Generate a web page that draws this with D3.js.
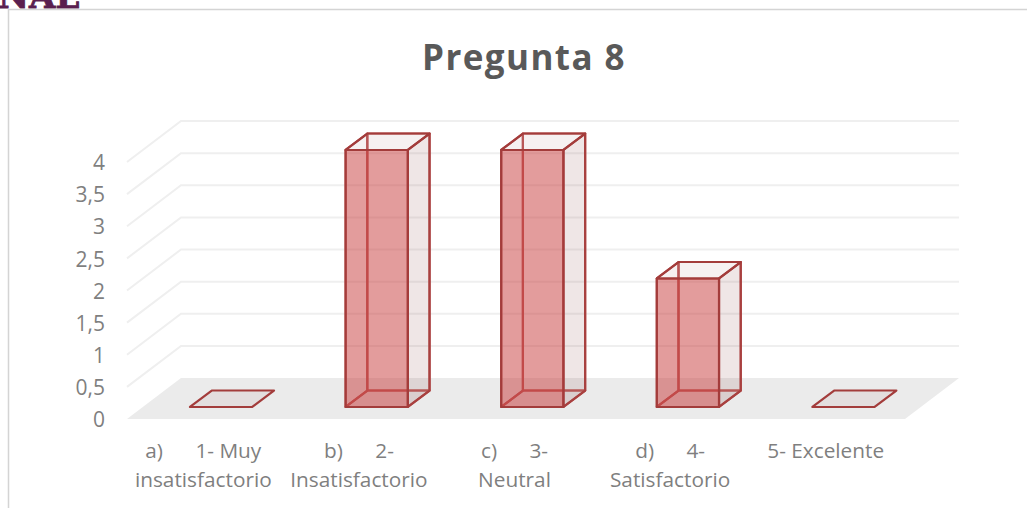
<!DOCTYPE html>
<html>
<head>
<meta charset="utf-8">
<script src="https://cdn.jsdelivr.net/npm/d3@7"></script>
<style>
  html, body { margin: 0; padding: 0; background: #fff; overflow: hidden; }
  svg { display: block; }
  text { font-family: "Open Sans", sans-serif; }
</style>
</head>
<body>
<div id="chart"></div>
<script>
const categories = ['a', 'b', 'c', 'd', 'e'];
const values = [0, 4, 4, 2, 0];
const label_lines = [
  ['a)      1- Muy', 'insatisfactorio'],
  ['b)      2-', 'Insatisfactorio'],
  ['c)      3-', 'Neutral'],
  ['d)      4-', 'Satisfactorio'],
  ['5- Excelente']
];
const y_ticks = [0, 0.5, 1, 1.5, 2, 2.5, 3, 3.5, 4];
const title = 'Pregunta 8';

const width = 1027, height = 508;
const depth = {dx: 54, dy: -41};
const bar_z = [0.293, 0.695];

let sx = d3.scaleBand().domain(categories).range([127, 905]).paddingInner(0).paddingOuter(0);
let sy = d3.scaleLinear().domain([0, 4]).range([419, 162]);
let sz = d3.scaleLinear().domain([0, 1]);
let bar_w = sx.bandwidth() * 0.4;

// project a value (x px, value, depth 0..1) on to the page
function pt(x, v, z) {
  return [x + sz(z) * depth.dx, sy(v) + sz(z) * depth.dy];
}

let svg = d3.select('#chart').append('svg')
  .attr('width', width)
  .attr('height', height);

// frame and the clipped heading above the chart
svg.append('text')
  .attr('x', -2).attr('y', 8)
  .attr('font-size', 34).attr('font-weight', 700)
  .style('font-family', '"DejaVu Serif", serif')
  .attr('fill', '#5a1f4f')
  .attr('stroke', '#5a1f4f').attr('stroke-width', 0.8)
  .text('NAL');
svg.append('path')
  .attr('d', `M8.5,508V9.5H${width}`)
  .attr('fill', 'none').attr('stroke', '#d4d4d4').attr('stroke-width', 1.5);

svg.append('text')
  .attr('x', 524).attr('y', 70)
  .attr('text-anchor', 'middle')
  .attr('font-size', 35).attr('font-weight', 700)
  .attr('letter-spacing', 1.4)
  .attr('fill', '#595959')
  .text(title);

// floor
let x0 = sx.range()[0], x1 = sx.range()[1];
svg.append('polygon')
  .attr('points', [pt(x0, 0, 0), pt(x1, 0, 0), pt(x1, 0, 1), pt(x0, 0, 1)].join(' '))
  .attr('fill', '#ebebeb');

// side and back wall grid
let line = d3.line();
svg.append('g').selectAll('path')
  .data(y_ticks.filter(d => d > 0))
  .join('path')
  .attr('d', d => line([pt(x0, d, 0), pt(x0, d, 1), pt(x1, d, 1)]))
  .attr('fill', 'none')
  .attr('stroke', '#efefef')
  .attr('stroke-width', 2);

// value axis
let axis = d3.axisLeft(sy)
  .tickValues(y_ticks)
  .tickSize(0)
  .tickPadding(0)
  .tickFormat(d => String(d).replace('.', ','));
let y_axis = svg.append('g')
  .attr('transform', 'translate(105,1)')
  .call(axis);
y_axis.select('.domain').remove();
y_axis.selectAll('text')
  .style('font-family', '"Open Sans", sans-serif')
  .attr('font-size', 21)
  .attr('fill', '#7f7f7f');

// bars
function faces(d) {
  let left = sx(d.cat) + (sx.bandwidth() - bar_w) / 2 + 0.5;
  let right = left + bar_w;
  let [z0, z1] = bar_z;
  let a = pt(left, 0, z0), b = pt(right, 0, z0), c = pt(right, 0, z1), e = pt(left, 0, z1);
  let f = pt(left, d.v, z0), g = pt(right, d.v, z0), h = pt(right, d.v, z1), i = pt(left, d.v, z1);
  return {
    back: [e, c, h, i], left: [a, e, i, f], bottom: [a, b, c, e],
    right: [b, c, h, g], top: [f, g, h, i], front: [a, b, g, f]
  };
}

let bars = svg.append('g').selectAll('g')
  .data(categories.map((cat, i) => ({cat, v: values[i]})))
  .join('g');

// hidden edges go first, so they read lighter through the front face
let face_styles = [
  ['back', 'none', '#bd5a59'], ['left', 'none', '#bd5a59'], ['bottom', 'rgba(140,80,80,0.05)', '#bd5a59'],
  ['right', 'rgba(140,80,80,0.14)', '#a8403f'], ['top', 'rgba(140,80,80,0.08)', '#a33c3b'],
  ['front', 'rgba(200,58,58,0.5)', '#a33c3b']
];
face_styles.forEach(([name, fill, edge]) => {
  bars.filter(d => d.v > 0 || name === 'top')
    .append('polygon')
    .attr('points', d => faces(d)[name].join(' '))
    .attr('fill', fill)
    .attr('stroke', edge)
    .attr('stroke-width', 2.2)
    .attr('stroke-linejoin', 'round');
});

// category labels
let labels = svg.append('g').selectAll('text')
  .data(label_lines)
  .join('text')
  .attr('fill', '#7f7f7f')
  .attr('font-size', 20.8)
  .attr('text-anchor', 'middle')
  .style('white-space', 'pre');
labels.selectAll('tspan')
  .data((d, i) => d.map(s => ({s, i})))
  .join('tspan')
  .attr('x', d => sx(categories[d.i]) + sx.bandwidth() / 2 - 1.5)
  .attr('y', (d, j) => 458 + j * 29)
  .text(d => d.s);
</script>
</body>
</html>
